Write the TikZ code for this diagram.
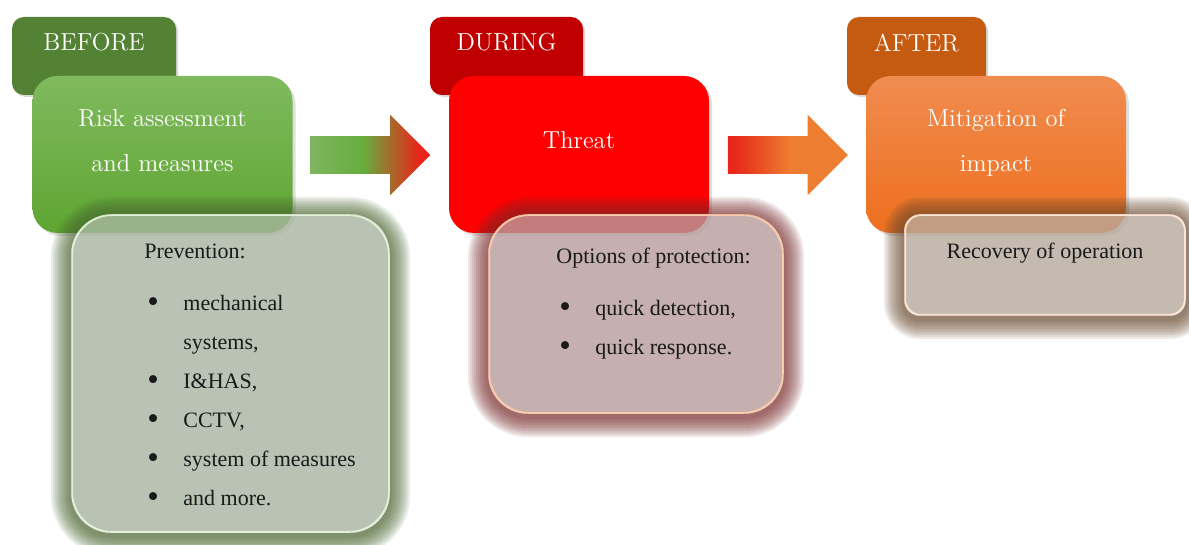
\documentclass[tikz,border=0pt]{standalone}
\usepackage{fontspec}
\newfontfamily\bodyfont{Liberation Serif}
\usetikzlibrary{shapes.arrows,shadows}

\definecolor{tabgreen}{HTML}{548235}
\definecolor{tabred}{HTML}{C00000}
\definecolor{taborange}{HTML}{C55A11}
\definecolor{risktop}{HTML}{80BA5E}
\definecolor{riskbot}{HTML}{5EA532}
\definecolor{threatred}{HTML}{FF0000}
\definecolor{mitigtop}{HTML}{F08C50}
\definecolor{mitigbot}{HTML}{EE6F1E}
\definecolor{prevfill}{HTML}{A8B5A0}
\definecolor{prevline}{HTML}{E2F0D9}
\definecolor{prevglow}{HTML}{48672F}
\definecolor{optfill}{HTML}{B79C9C}
\definecolor{optline}{HTML}{F8CBAD}
\definecolor{optglow}{HTML}{7A2C2C}
\definecolor{recfill}{HTML}{B7A99B}
\definecolor{recline}{HTML}{FBE5D6}
\definecolor{recglow}{HTML}{6B4A30}
\definecolor{arrgreenlight}{HTML}{7DB65F}
\definecolor{arrgreen}{HTML}{66AD3D}
\definecolor{arrred}{HTML}{E8261A}
\definecolor{arrorange}{HTML}{ED7D31}

\pgfdeclarehorizontalshading{arrowAshade}{100bp}{color(0bp)=(arrgreenlight); color(25bp)=(arrgreenlight); color(47bp)=(arrgreen); color(70bp)=(arrred); color(100bp)=(arrred)}
\pgfdeclarehorizontalshading{arrowBshade}{100bp}{color(0bp)=(arrred); color(27bp)=(arrred); color(51bp)=(arrorange); color(100bp)=(arrorange)}

\newcommand{\itm}{\hspace*{1.5pt}\makebox[18pt][l]{\raisebox{-0.6pt}{\scalebox{1.5}{\textbullet}}}}

\begin{document}
\begin{tikzpicture}[x=0.5pt,y=-0.5pt,
	tab/.style={rounded corners=6pt,minimum height=39pt,inner sep=0pt,
		drop shadow={shadow xshift=1pt,shadow yshift=-1pt,opacity=.3}},
	mainbox/.style={rounded corners=12.5pt,minimum width=130pt,minimum height=78.5pt,inner sep=0pt,
		drop shadow={shadow xshift=1.5pt,shadow yshift=-1.5pt,opacity=.25}},
	detailbox/.style={rounded corners=20pt,line width=1pt,fill opacity=.8,inner sep=0pt},
	title/.style={text=white,font=\fontsize{12.3pt}{22.5pt}\selectfont,align=center,inner sep=0pt},
	listtext/.style={text=black!90,font=\bodyfont\fontsize{11pt}{19.5pt}\selectfont,align=left,inner sep=0pt},
	blockarrow/.style={single arrow,minimum height=60pt,inner xsep=0pt,inner ysep=9.25pt,
		single arrow head extend=10.75pt}]
	\useasboundingbox[fill=white] (0,0) rectangle (1189,545);
	% before
	\node[tab,fill=tabgreen,minimum width=82pt] (before) at (94,56) {};
	\node[title] at ([yshift=-13pt]before.north) {BEFORE};
	\node[mainbox,top color=risktop,bottom color=riskbot] (risk) at (162.5,154.5) {};
	\node[title] at (162.5,141) {Risk assessment\\and measures};
	\node[detailbox,fill=prevfill,draw=prevline,minimum width=158.5pt,minimum height=158.5pt] (prevention) at (230.5,373.5) {};
	\node[listtext,anchor=north west] at (144,244) {Prevention:\\[6.5pt]
		\itm mechanical\\
		\hspace*{19.5pt}systems,\\
		\itm I\&HAS,\\
		\itm CCTV,\\
		\itm system of measures\\
		\itm and more.};
	\node[blockarrow,shading=arrowAshade] (arrowA) at (361,155) {};
	% during
	\node[tab,fill=tabred,minimum width=76.5pt] (during) at (506.5,56) {};
	\node[title] at ([yshift=-13pt]during.north) {DURING};
	\node[mainbox,fill=threatred] (threat) at (579,154.5) {};
	\node[title] at (579,140.5) {Threat};
	\node[detailbox,fill=optfill,draw=optline,minimum width=147pt,minimum height=99pt] (options) at (636,314) {};
	\node[listtext,anchor=north west] at (556,248) {Options of protection:\\[6.5pt]
		\itm quick detection,\\
		\itm quick response.};
	\node[blockarrow,shading=arrowBshade] (arrowB) at (778.5,155) {};
	% after
	\node[tab,fill=taborange,minimum width=69.5pt] (after) at (916.5,56) {};
	\node[title] at ([yshift=-13pt]after.north) {AFTER};
	\node[mainbox,top color=mitigtop,bottom color=mitigbot] (mitigation) at (996,154.5) {};
	\node[title] at (996,143) {Mitigation of\\impact};
	\node[detailbox,fill=recfill,draw=recline,rounded corners=8pt,minimum width=140pt,minimum height=50pt] (recovery) at (1045,265) {};
	\node[listtext,anchor=base] at (1045,259) {Recovery of operation};
	% glow round the detail boxes
	\foreach \bx/\gc/\rad in {prevention/prevglow/20,options/optglow/20,recovery/recglow/8}
		\foreach \k in {1,...,10}{
			\pgfmathsetmacro\rr{\rad+\k}
			\fill[\gc,fill opacity=.11,even odd rule]
				[rounded corners=\rr pt] ([shift={(-2*\k,-2*\k+3)}]\bx.north west) rectangle ([shift={(2*\k,2*\k+3)}]\bx.south east)
				[rounded corners=\rad pt] (\bx.north west) rectangle (\bx.south east);
		}
\end{tikzpicture}
\end{document}
